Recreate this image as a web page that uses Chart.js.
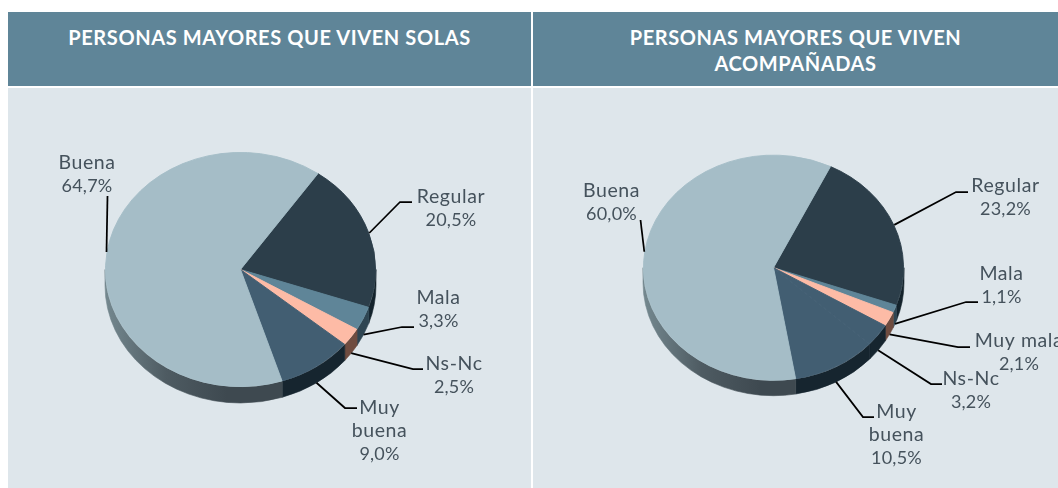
<!DOCTYPE html>
<html lang="es"><head><meta charset="utf-8">
<script src="https://cdn.jsdelivr.net/npm/chart.js@4"></script>
<style>
html,body{margin:0;padding:0;background:#fff;overflow:hidden}
#stage{position:relative;width:1058px;height:488px;overflow:hidden}
.hd{position:absolute;top:12px;height:74px;background:#5f8598;color:#fff;font:700 20px/26px Lato,sans-serif;letter-spacing:.6px;text-align:center;box-sizing:border-box;padding-top:12px}
.pn{position:absolute;top:88px;height:400px;background:#dee6eb}
canvas{position:absolute;top:88px}
</style></head><body>
<div id="stage">
<div class="hd" style="left:8px;width:523px">PERSONAS MAYORES QUE VIVEN SOLAS</div>
<div class="hd" style="left:533px;width:525px">PERSONAS MAYORES QUE VIVEN<br>ACOMPAÑADAS</div>
<div class="pn" style="left:8px;width:523px"></div>
<div class="pn" style="left:533px;width:525px"></div>
<canvas id="solas" width="523" height="400" style="left:8px"></canvas>
<canvas id="acomp" width="525" height="400" style="left:533px"></canvas>
</div>
<script>
// ---- data ----
const solasCategories = ['Regular','Mala','Ns-Nc','Muy buena','Buena'];
const solasValues     = [20.5,3.3,2.5,9.0,64.7];
const acompCategories = ['Regular','Mala','Muy mala','Ns-Nc','Muy buena','Buena'];
const acompValues     = [23.2,1.1,2.1,3.2,10.5,60.0];

// ---- styles ----
const C = {reg:'#2c3e4a',mala:'#5f8598',peach:'#fdbba6',blue:'#425e72',buena:'#a5bdc7'};
const S = {reg:'#14232c',mala:'#2e4552',peach:'#6f4c40',blue:'#16252f'};
const solasTop  = [C.reg,C.mala,C.peach,C.blue,C.buena];
const solasSide = [S.reg,S.mala,S.peach,S.blue,null];
const acompTop  = [C.reg,C.mala,C.peach,C.blue,C.blue,C.buena];
const acompSide = [S.reg,S.mala,S.peach,S.blue,S.blue,null];

// ---- label layout, page pixels: [elbow x, elbow y, end x, end y, text centre x, first line y] ----
const solasLayout = {
  'Regular':[400,202,412,202,451,197],
  'Mala':[402,327,414,327,438.5,298],
  'Ns-Nc':[413,369,423,369,454,364],
  'Muy buena':[345,408,357,408,379.5,408],
  'Buena':[107.5,196,107.5,196,87,163]
};
const acompLayout = {
  'Regular':[956,192,968,192,1005.5,186],
  'Mala':[966,302,978,302,1001.5,274],
  'Muy mala':[958,347,970,347,1019,341],
  'Ns-Nc':[931,384,942,384,971,379],
  'Muy buena':[863,417,874,417,896.5,412],
  'Buena':[640.5,220,640.5,220,611.5,191]
};
const LINE_H = 23;

function pct(v){return v.toFixed(1).replace('.',',')+'%';}

const pie3d = {
  id:'pie3d',
  beforeDatasetsDraw(chart,_,o){
    const ctx=chart.ctx, arcs=chart.getDatasetMeta(0).data;
    const cx=arcs[0].x, cy=arcs[0].y, rx=arcs[0].outerRadius+0.5, ry=rx*o.squash;
    arcs.forEach((a,i)=>{
      for(const shift of [-2*Math.PI,0,2*Math.PI]){
        const s=Math.max(a.startAngle+shift,0), e=Math.min(a.endAngle+shift,Math.PI);
        if(e<=s) continue;
        ctx.beginPath();
        ctx.ellipse(cx,cy,rx,ry,0,s,e);
        ctx.ellipse(cx,cy+o.depth,rx,ry,0,e,s,true);
        ctx.closePath();
        let fill=o.side[i];
        if(!fill){
          fill=ctx.createLinearGradient(cx-rx,0,cx-rx*0.1,0);
          fill.addColorStop(0,'#74888f');
          fill.addColorStop(0.5,'#4e5b62');
          fill.addColorStop(1,'#3e4950');
        }
        ctx.fillStyle=fill; ctx.fill();
        ctx.strokeStyle=fill; ctx.lineWidth=0.6; ctx.stroke();
      }
    });
    ctx.save();
    ctx.translate(cx,cy); ctx.scale(1,o.squash); ctx.translate(-cx,-cy);
  },
  afterDatasetsDraw(chart,_,o){
    const ctx=chart.ctx; ctx.restore();
    const arcs=chart.getDatasetMeta(0).data, ds=chart.data.datasets[0], labels=chart.data.labels;
    const box=chart.canvas.getBoundingClientRect();
    arcs.forEach((a,i)=>{
      const L=o.layout[labels[i]], mid=(a.startAngle+a.endAngle)/2, r=a.outerRadius+0.5;
      const px=a.x+r*Math.cos(mid);
      let py=a.y+r*o.squash*Math.sin(mid);
      if(Math.sin(mid)>0) py+=o.depth;
      ctx.beginPath();
      ctx.moveTo(px,py);
      ctx.lineTo(L[0]-box.left,L[1]-box.top);
      ctx.lineTo(L[2]-box.left,L[3]-box.top);
      ctx.strokeStyle='#000'; ctx.lineWidth=1.75; ctx.stroke();
      const words=labels[i]==='Muy buena'?['Muy','buena']:[labels[i]];
      const lines=[...words,pct(ds.data[i])];
      ctx.fillStyle='#45525c';
      ctx.textAlign='center'; ctx.textBaseline='middle';
      lines.forEach((t,j)=>{
        const isWord=j<words.length;
        ctx.font=(isWord?'19.5px':'18px')+' Lato, sans-serif';
        ctx.letterSpacing=isWord?'0.6px':'0.2px';
        ctx.fillText(t,L[4]-box.left,L[5]-box.top+j*LINE_H);
      });
      ctx.letterSpacing='0px';
    });
  }
};

function makePie(id,labels,values,colors,side,layout,cx,cy,rx,ry,depth,rotation,w,h){
  new Chart(document.getElementById(id),{
    type:'pie',
    data:{labels,datasets:[{data:values,backgroundColor:colors,borderColor:colors,borderWidth:1,borderJoinStyle:'round',clip:false}]},
    options:{
      responsive:false,animation:false,rotation,radius:rx-0.5,
      layout:{padding:{left:Math.max(2*cx-w,0),right:Math.max(w-2*cx,0),top:Math.max(2*cy-h,0),bottom:Math.max(h-2*cy,0)}},
      plugins:{legend:{display:false},tooltip:{enabled:false},
        pie3d:{squash:ry/rx,depth,side,layout}}
    },
    plugins:[pie3d]
  });
}
makePie('solas',solasCategories,solasValues,solasTop,solasSide,solasLayout,240.5-8,269.5-88,135.5,117.5,16,35,523,400);
makePie('acomp',acompCategories,acompValues,acompTop,acompSide,acompLayout,773.5-533,267.7-88,130.5,113,15,26,525,400);
</script>
</body></html>
